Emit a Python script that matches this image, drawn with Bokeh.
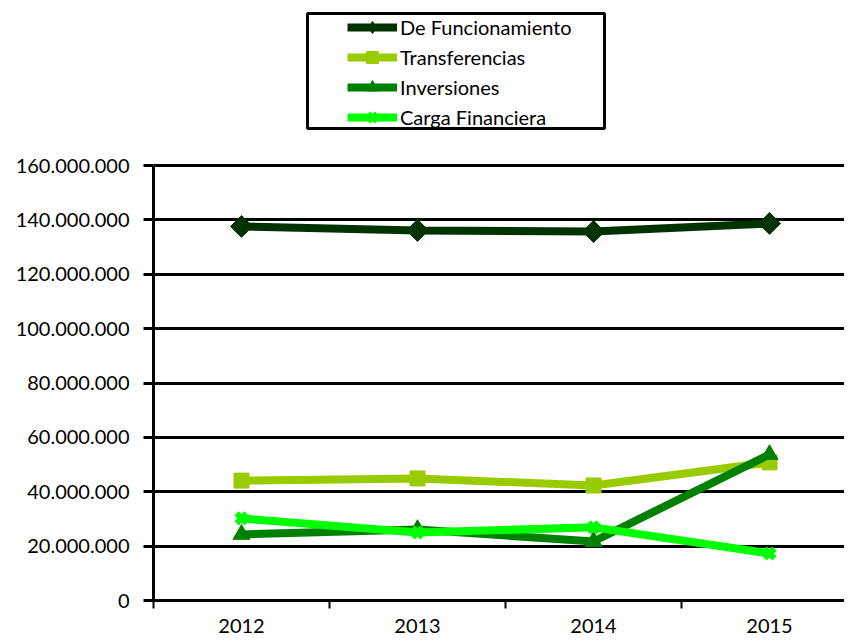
import math
from bokeh.plotting import figure
from bokeh.models import Legend, LegendItem, FixedTicker, Range1d, BoxAnnotation
from bokeh.embed import file_html
from bokeh.resources import INLINE

years = ["2012", "2013", "2014", "2015"]
funcionamiento = [137.6e6, 136.1e6, 135.7e6, 138.7e6]
transferencias = [44.1e6, 44.9e6, 42.3e6, 50.8e6]
inversiones = [24.3e6, 26.1e6, 21.7e6, 53.7e6]
carga = [30.2e6, 25.0e6, 26.9e6, 17.3e6]
y_ticks = [0, 20e6, 40e6, 60e6, 80e6, 100e6, 120e6, 140e6, 160e6]
y_tick_labels = ["0", "20.000.000", "40.000.000", "60.000.000", "80.000.000",
                 "100.000.000", "120.000.000", "140.000.000", "160.000.000"]

FONT = "Lato"
x = [i + 0.5 for i in range(len(years))]

# frame extends up to the legend area; axis/grid bounded to 0..160M
p = figure(width=844, height=642, output_backend="svg", toolbar_location=None,
           min_border_left=153, min_border_right=0, min_border_top=5, min_border_bottom=42,
           x_range=Range1d(0, 3.926), y_range=Range1d(0, 160e6 * 595 / 435))
p.outline_line_color = None
p.xgrid.grid_line_color = None
p.ygrid.grid_line_color = "black"
p.ygrid.grid_line_width = 3
p.ygrid.ticker = FixedTicker(ticks=y_ticks)

p.yaxis.ticker = FixedTicker(ticks=y_ticks)
p.yaxis.bounds = (0, 160e6)
p.yaxis.major_label_overrides = {t: l for t, l in zip(y_ticks, y_tick_labels)}
p.yaxis.axis_line_width = 3
p.yaxis.axis_line_color = "black"
p.yaxis.major_tick_line_width = 3
p.yaxis.major_tick_out = 10
p.yaxis.major_tick_in = 0
p.yaxis.minor_tick_line_color = None
p.yaxis.major_label_standoff = 14
p.yaxis.major_label_text_font = FONT
p.yaxis.major_label_text_font_size = "20px"
p.yaxis.major_label_text_color = "black"

p.xaxis.ticker = FixedTicker(ticks=x, minor_ticks=[0, 1, 2, 3, 4])
p.xaxis.major_label_overrides = {xi: y for xi, y in zip(x, years)}
p.xaxis.axis_line_width = 3
p.xaxis.axis_line_color = "black"
p.xaxis.major_tick_line_color = None
p.xaxis.minor_tick_line_color = "black"
p.xaxis.minor_tick_line_width = 2
p.xaxis.minor_tick_out = 8
p.xaxis.minor_tick_in = 0
p.xaxis.major_label_standoff = 10
p.xaxis.major_label_text_font = FONT
p.xaxis.major_label_text_font_size = "20px"
p.xaxis.major_label_text_color = "black"

series = [
    ("De Funcionamiento", funcionamiento, "#003300", "square", 15.5, math.pi / 4, "diamond"),
    ("Transferencias", transferencias, "#99cc00", "square", 15, 0, "square"),
    ("Inversiones", inversiones, "#008000", "triangle", 17, 0, "triangle"),
    ("Carga Financiera", carga, "#00ff00", "x", 14, 0, "x"),
]
items = []
for name, vals, col, mk, sz, ang, lmk in series:
    lr = p.line(x, vals, line_color=col, line_width=8)
    if mk == "x":
        p.scatter(x, vals, marker=mk, size=sz, line_color=col, line_width=6)
        proxy = p.scatter(x, vals, marker=lmk, size=sz, line_color=col, line_width=5)
    else:
        p.scatter(x, vals, marker=mk, size=sz, angle=ang, fill_color=col, line_color=col)
        proxy = p.scatter(x, vals, marker=lmk, size=sz, fill_color=col, line_color=col)
    proxy.visible = False
    items.append(LegendItem(label=name, renderers=[lr, proxy]))

# legend frame box (screen units relative to the plot frame)
box = BoxAnnotation(left=154, right=451, bottom=472, top=587,
                    left_units="screen", right_units="screen",
                    bottom_units="screen", top_units="screen",
                    fill_color="white", fill_alpha=1,
                    line_color="black", line_alpha=1, line_width=3)
p.add_layout(box)

legend = Legend(items=items, location=(156, 430), orientation="vertical")
legend.border_line_alpha = 0
legend.background_fill_alpha = 0
legend.padding = 38
legend.spacing = 0
legend.margin = 0
legend.label_height = 30
legend.glyph_height = 30
legend.glyph_width = 50
legend.label_standoff = 3
legend.label_text_font = FONT
legend.label_text_font_size = "20px"
legend.label_text_color = "black"
p.add_layout(legend, "center")

open("out.html", "w").write(file_html(p, INLINE))
